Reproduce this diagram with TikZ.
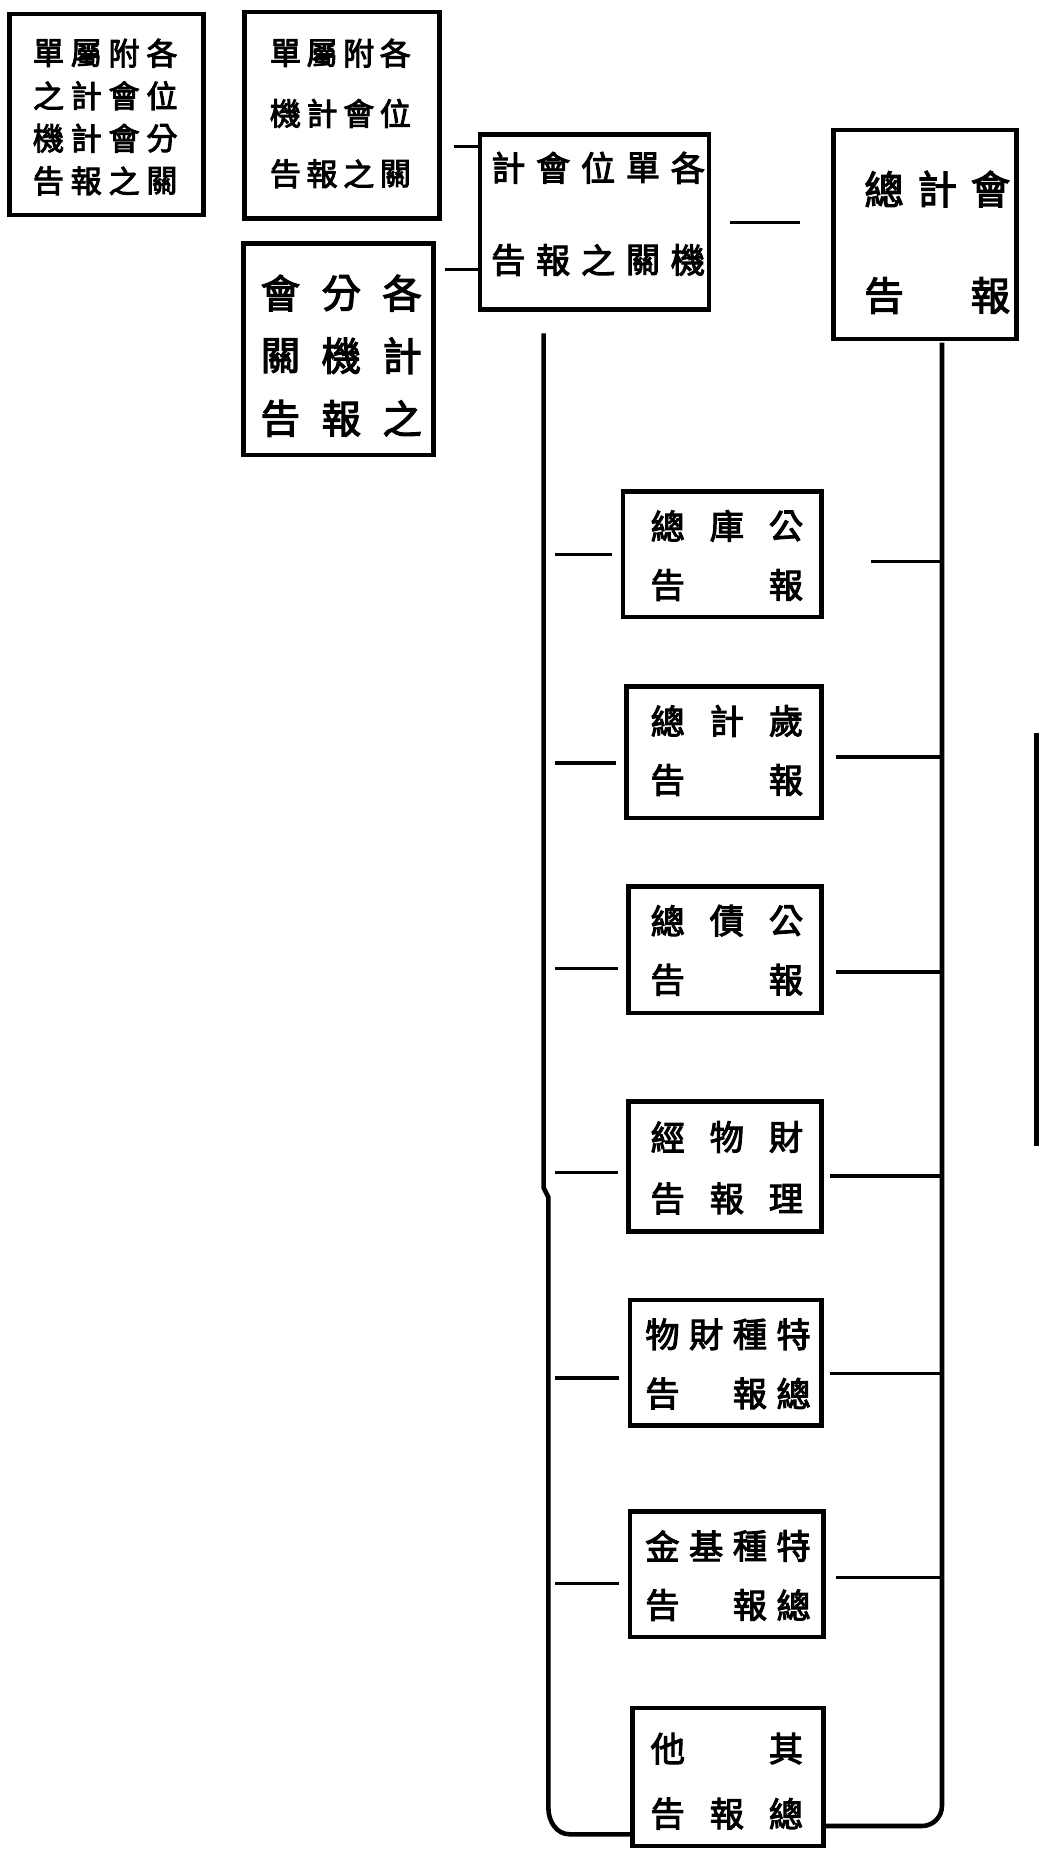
\documentclass[tikz,border=0pt]{standalone}
\usepackage{fontspec}
\newfontfamily\cjk[FakeBold=3]{Noto Sans CJK TC}
\usetikzlibrary{fit}

\tikzset{
    repbox/.style={draw=black, line width=2.2pt, inner sep=0pt},
    repchar/.style={font=\cjk\fontsize{16.5}{16.5}\selectfont, inner sep=0pt},
    bigchar/.style={font=\cjk\fontsize{19}{19}\selectfont, inner sep=0pt},
    smallchar/.style={font=\cjk\fontsize{15}{15}\selectfont, inner sep=0pt},
    link/.style={line width=1.6pt},
    trunk/.style={line width=2.2pt}
}

\begin{document}
\begin{tikzpicture}[x=0.02cm, y=-0.02cm]
        \useasboundingbox (0,0) rectangle (880,1567);

        % upper reports
        \node[repbox, fit={(8,12) (172,182)}] (t1) {};
        \node[repbox, fit={(207,10) (372,185)}] (t2) {};
        \node[repbox, fit={(206,206) (367,385)}] (t3) {};
        \node[repbox, fit={(406,114) (600,262)}] (t4) {};
        \node[repbox, fit={(705,110) (860,287)}] (t5) {};

        \foreach[count=\i] \c in {各,附,屬,單,位,會,計,之,分,會,計,機,關,之,報,告} {
            \node[smallchar] (t1c\i) at ({153-32*(mod(\i-1,4)+0.5)}, {27+36*(div(\i-1,4)+0.5)}) {\c};
        }
        \foreach[count=\i] \c in {各,附,屬,單,位,會,計,機,關,之,報,告} {
            \node[smallchar] (t2c\i) at ({350-31*(mod(\i-1,4)+0.5)}, {19.5+51*(div(\i-1,4)+0.5)}) {\c};
        }
        \foreach[count=\i] \c in {各,分,會,計,機,關,之,報,告} {
            \node[bigchar] (t3c\i) at ({366-51.5*(mod(\i-1,3)+0.5)}, {221.5+53*(div(\i-1,3)+0.5)}) {\c};
        }
        \foreach[count=\i] \c in {各,單,位,會,計,機,關,之,報,告} {
            \node[repchar] (t4c\i) at ({601-38*(mod(\i-1,5)+0.5)}, {103+78*(div(\i-1,5)+0.5)}) {\c};
        }
        \foreach[count=\i] \c in {會,計,總,報,{},告} {
            \node[bigchar] (t5c\i) at ({860.5-45*(mod(\i-1,3)+0.5)}, {115+90*(div(\i-1,3)+0.5)}) {\c};
        }

        \coordinate (j1) at (406,124);
        \coordinate (j2) at (406,228);
        \draw[link, shorten <=0.2cm] (j1 -| t2.east) -- (j1);
        \draw[link, shorten <=0.16cm] (j2 -| t3.east) -- (j2);
        \draw[link, shorten <=0.32cm, shorten >=0.52cm] (t4.east) -- (t4.east -| t5.west);

        % lower reports
        \node[repbox, fit={(527,416) (695,522)}] (b1) {};
        \node[repbox, fit={(530,581) (695,692)}] (b2) {};
        \node[repbox, fit={(532,750) (695,857)}] (b3) {};
        \node[repbox, fit={(532,932) (695,1042)}] (b4) {};
        \node[repbox, fit={(533,1100) (695,1206)}] (b5) {};
        \node[repbox, fit={(533,1279) (697,1385)}] (b6) {};
        \node[repbox, fit={(535,1445) (697,1562)}] (b7) {};

        \foreach[count=\i] \c in {公,庫,總,報,{},告} {
            \node[repchar] (b1c\i) at ({690-50*(mod(\i-1,3)+0.5)}, {420+50*(div(\i-1,3)+0.5)}) {\c};
        }
        \foreach[count=\i] \c in {歲,計,總,報,{},告} {
            \node[repchar] (b2c\i) at ({690-50*(mod(\i-1,3)+0.5)}, {585+50*(div(\i-1,3)+0.5)}) {\c};
        }
        \foreach[count=\i] \c in {公,債,總,報,{},告} {
            \node[repchar] (b3c\i) at ({690-50*(mod(\i-1,3)+0.5)}, {754+50*(div(\i-1,3)+0.5)}) {\c};
        }
        \foreach[count=\i] \c in {財,物,經,理,報,告} {
            \node[repchar] (b4c\i) at ({690-50*(mod(\i-1,3)+0.5)}, {936+52*(div(\i-1,3)+0.5)}) {\c};
        }
        \foreach[count=\i] \c in {特,種,財,物,總,報,{},告} {
            \node[repchar] (b5c\i) at ({690-37*(mod(\i-1,4)+0.5)}, {1104+50*(div(\i-1,4)+0.5)}) {\c};
        }
        \foreach[count=\i] \c in {特,種,基,金,總,報,{},告} {
            \node[repchar] (b6c\i) at ({690-37*(mod(\i-1,4)+0.5)}, {1283+50*(div(\i-1,4)+0.5)}) {\c};
        }
        \foreach[count=\i] \c in {其,{},他,總,報,告} {
            \node[repchar] (b7c\i) at ({690-50*(mod(\i-1,3)+0.5)}, {1452+55*(div(\i-1,3)+0.5)}) {\c};
        }

        % trunks
        \coordinate (lt) at (460,282);
        \coordinate (lb) at (464,1552);
        \coordinate (rt) at (797,290);
        \coordinate (rb) at (797,1545);
        \draw[trunk] (lt) -- (460,1005) -- (464,1013) -- (464,1530)
            to[out=-90, in=180] (482,1552) -- (lb -| b7.west);
        \draw[trunk] (rt) -- (797,1528)
            to[out=-90, in=0] (780,1545) -- (rb -| b7.east);

        \foreach \b/\dl/\dr/\sr in {b1/0/6/0.8, b2/9/4/0.2, b3/16/19/0.2, b4/5/8/0.1, b5/13/9/0.1, b6/8/3/0.16} {
            \path ([yshift=-\dl*0.2mm]\b.west) coordinate (\b l);
            \path ([yshift=-\dr*0.2mm]\b.east) coordinate (\b r);
            \draw[link, shorten <=0.2cm, shorten >=0.14cm] (\b l -| lt) -- (\b l);
            \draw[link, shorten <=\sr cm] (\b r) -- (\b r -| rt);
        }

        \draw[trunk] (877,620) -- (877,970);
\end{tikzpicture}
\end{document}
